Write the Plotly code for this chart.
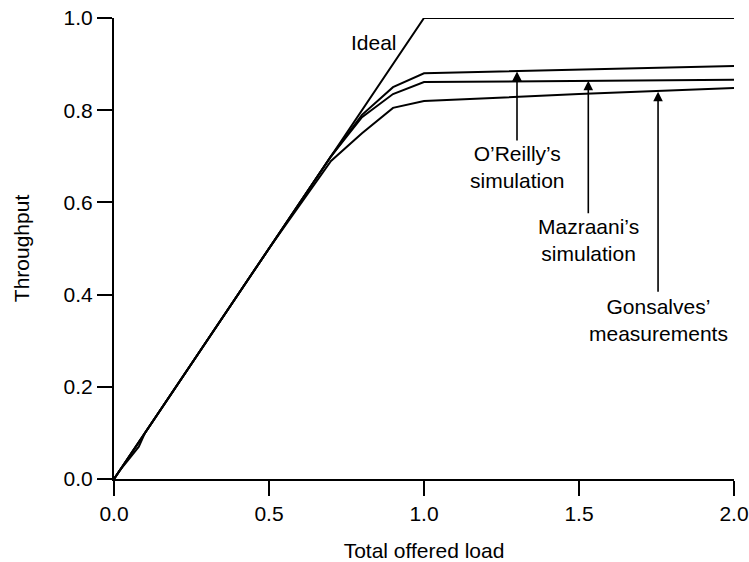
import plotly.graph_objects as go

# Throughput vs. total offered load (token-ring style comparison)
ideal_load = [0.0, 1.0, 2.0]
ideal_tp = [0.0, 1.0, 1.0]

oreilly_load = [0.0, 0.5, 0.7, 0.8, 0.9, 1.0, 1.5, 2.0]
oreilly_tp = [0.0, 0.5, 0.7, 0.79, 0.85, 0.88, 0.888, 0.896]

mazraani_load = [0.0, 0.5, 0.7, 0.8, 0.9, 1.0, 1.5, 2.0]
mazraani_tp = [0.0, 0.5, 0.7, 0.785, 0.835, 0.861, 0.864, 0.866]

gonsalves_load = [0.0, 0.02, 0.05, 0.08, 0.1, 0.3, 0.5, 0.7, 0.8, 0.9, 1.0, 1.5, 2.0]
gonsalves_tp = [0.0, 0.02, 0.045, 0.07, 0.1, 0.3, 0.5, 0.69, 0.75, 0.805, 0.82, 0.835, 0.848]

x_ticks = [0.0, 0.5, 1.0, 1.5, 2.0]
y_ticks = [0.0, 0.2, 0.4, 0.6, 0.8, 1.0]

# Arrow callouts: (label, x, tail y, head y, label y)
callouts = [
    ("O’Reilly’s<br>simulation", 1.30, 0.731, 0.884, 0.676),
    ("Mazraani’s<br>simulation", 1.53, 0.573, 0.864, 0.518),
    ("Gonsalves’<br>measurements", 1.755, 0.403, 0.840, 0.345),
]

FONT = "Liberation Sans, Arial, Helvetica, sans-serif"
FS = 21
LINE = dict(color="black", width=2)

fig = go.Figure()
for xs, ys in [(ideal_load, ideal_tp), (oreilly_load, oreilly_tp),
               (mazraani_load, mazraani_tp), (gonsalves_load, gonsalves_tp)]:
    fig.add_trace(go.Scatter(x=xs, y=ys, mode="lines", line=LINE,
                             cliponaxis=False, showlegend=False,
                             hoverinfo="skip"))

annotations = [dict(x=0.84, y=0.946, xref="x", yref="y", text="Ideal",
                    showarrow=False, font=dict(size=FS, color="black", family=FONT))]
for label, xpos, tail, head, ylab in callouts:
    annotations.append(dict(x=xpos, y=head, ax=xpos, ay=tail,
                            xref="x", yref="y", axref="x", ayref="y",
                            text="", showarrow=True, arrowhead=2,
                            arrowsize=1.2, arrowwidth=1.6, arrowcolor="black",
                            standoff=0, startstandoff=0))
    annotations.append(dict(x=xpos, y=ylab, xref="x", yref="y", text=label,
                            showarrow=False, align="center",
                            font=dict(size=FS, color="black", family=FONT)))

axis_common = dict(showline=True, linecolor="black", linewidth=2,
                   ticks="outside", ticklen=15, tickwidth=2, tickcolor="black",
                   showgrid=False, zeroline=False, tickformat=".1f",
                   automargin=False,
                   tickfont=dict(size=FS, color="black", family=FONT))

fig.update_layout(
    width=749, height=562,
    margin=dict(l=114, r=15, t=18, b=83),
    paper_bgcolor="white", plot_bgcolor="white",
    font=dict(family=FONT, color="black"),
    xaxis=dict(range=[0, 2], tickvals=x_ticks,
               title=dict(text="Total offered load", standoff=24,
                          font=dict(size=FS, color="black", family=FONT)),
               **axis_common),
    yaxis=dict(range=[0, 1], tickvals=y_ticks,
               title=dict(text="Throughput", standoff=28,
                          font=dict(size=FS, color="black", family=FONT)),
               **axis_common),
    annotations=annotations,
)

fig.write_html("out.html")
